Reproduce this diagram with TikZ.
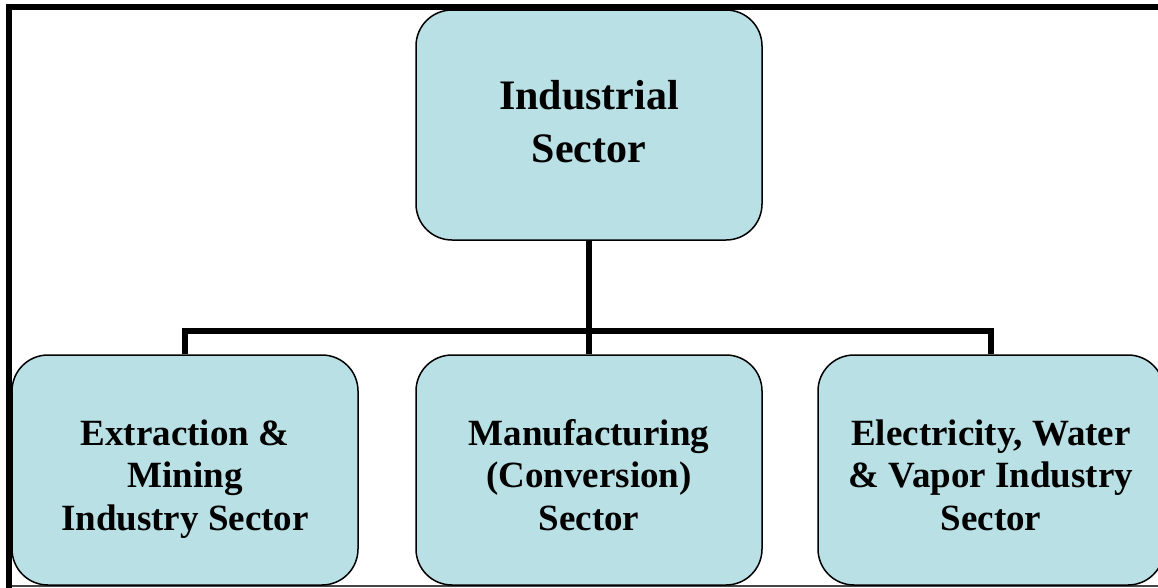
\documentclass[tikz,border=0pt]{standalone}
\usepackage{fontspec}
\setmainfont{Liberation Serif}
\definecolor{boxfill}{RGB}{185,224,228}
\definecolor{rulegray}{RGB}{70,70,70}
\begin{document}
\begin{tikzpicture}[x=1pt,y=-1pt,
  sector/.style={draw=black, line width=1.5pt, fill=boxfill, rounded corners=36pt,
                 minimum width=346pt, minimum height=230pt, inner sep=0pt},
  toplabel/.style={align=center, inner sep=0pt,
                   font=\bfseries\fontsize{42}{53}\selectfont},
  sublabel/.style={align=center, inner sep=0pt,
                   font=\bfseries\fontsize{37}{42.5}\selectfont},
  link/.style={line width=5.5pt, line join=miter}]
\useasboundingbox (0,0) rectangle (1158,587);

% outer frame: heavy top and left rules, light bottom rule
\draw[line width=2.5pt, rulegray] (9,585.8) -- (1170,585.8);
\draw[line width=6pt, line join=miter] (1170,7) -- (9,7) -- (9,600);

% sector boxes
\node[sector] (top) at (589,125) {};
\node[sector] (ext) at (185,470) {};
\node[sector] (man) at (589,470) {};
\node[sector] (ele) at (991,470) {};

% tree connectors
\coordinate (bus) at (589,331);
\draw[link] (top.south) -- (man.north);
\draw[link] (ext.north) |- (bus) -| (ele.north);

% box texts
\node[toplabel] (toptext) at (top.center) {\strut Industrial\\Sector\strut};
\node[sublabel] (exttext) at ([yshift=-9pt]ext.center)
  {\strut Extraction \&\\Mining\\Industry Sector\strut};
\node[sublabel] (mantext) at ([yshift=-9pt]man.center)
  {\strut Manufacturing\\(Conversion)\\Sector\strut};
\node[sublabel] (eletext) at ([yshift=-9pt]ele.center)
  {\strut Electricity, Water\\\& Vapor Industry\\Sector\strut};
\end{tikzpicture}
\end{document}
